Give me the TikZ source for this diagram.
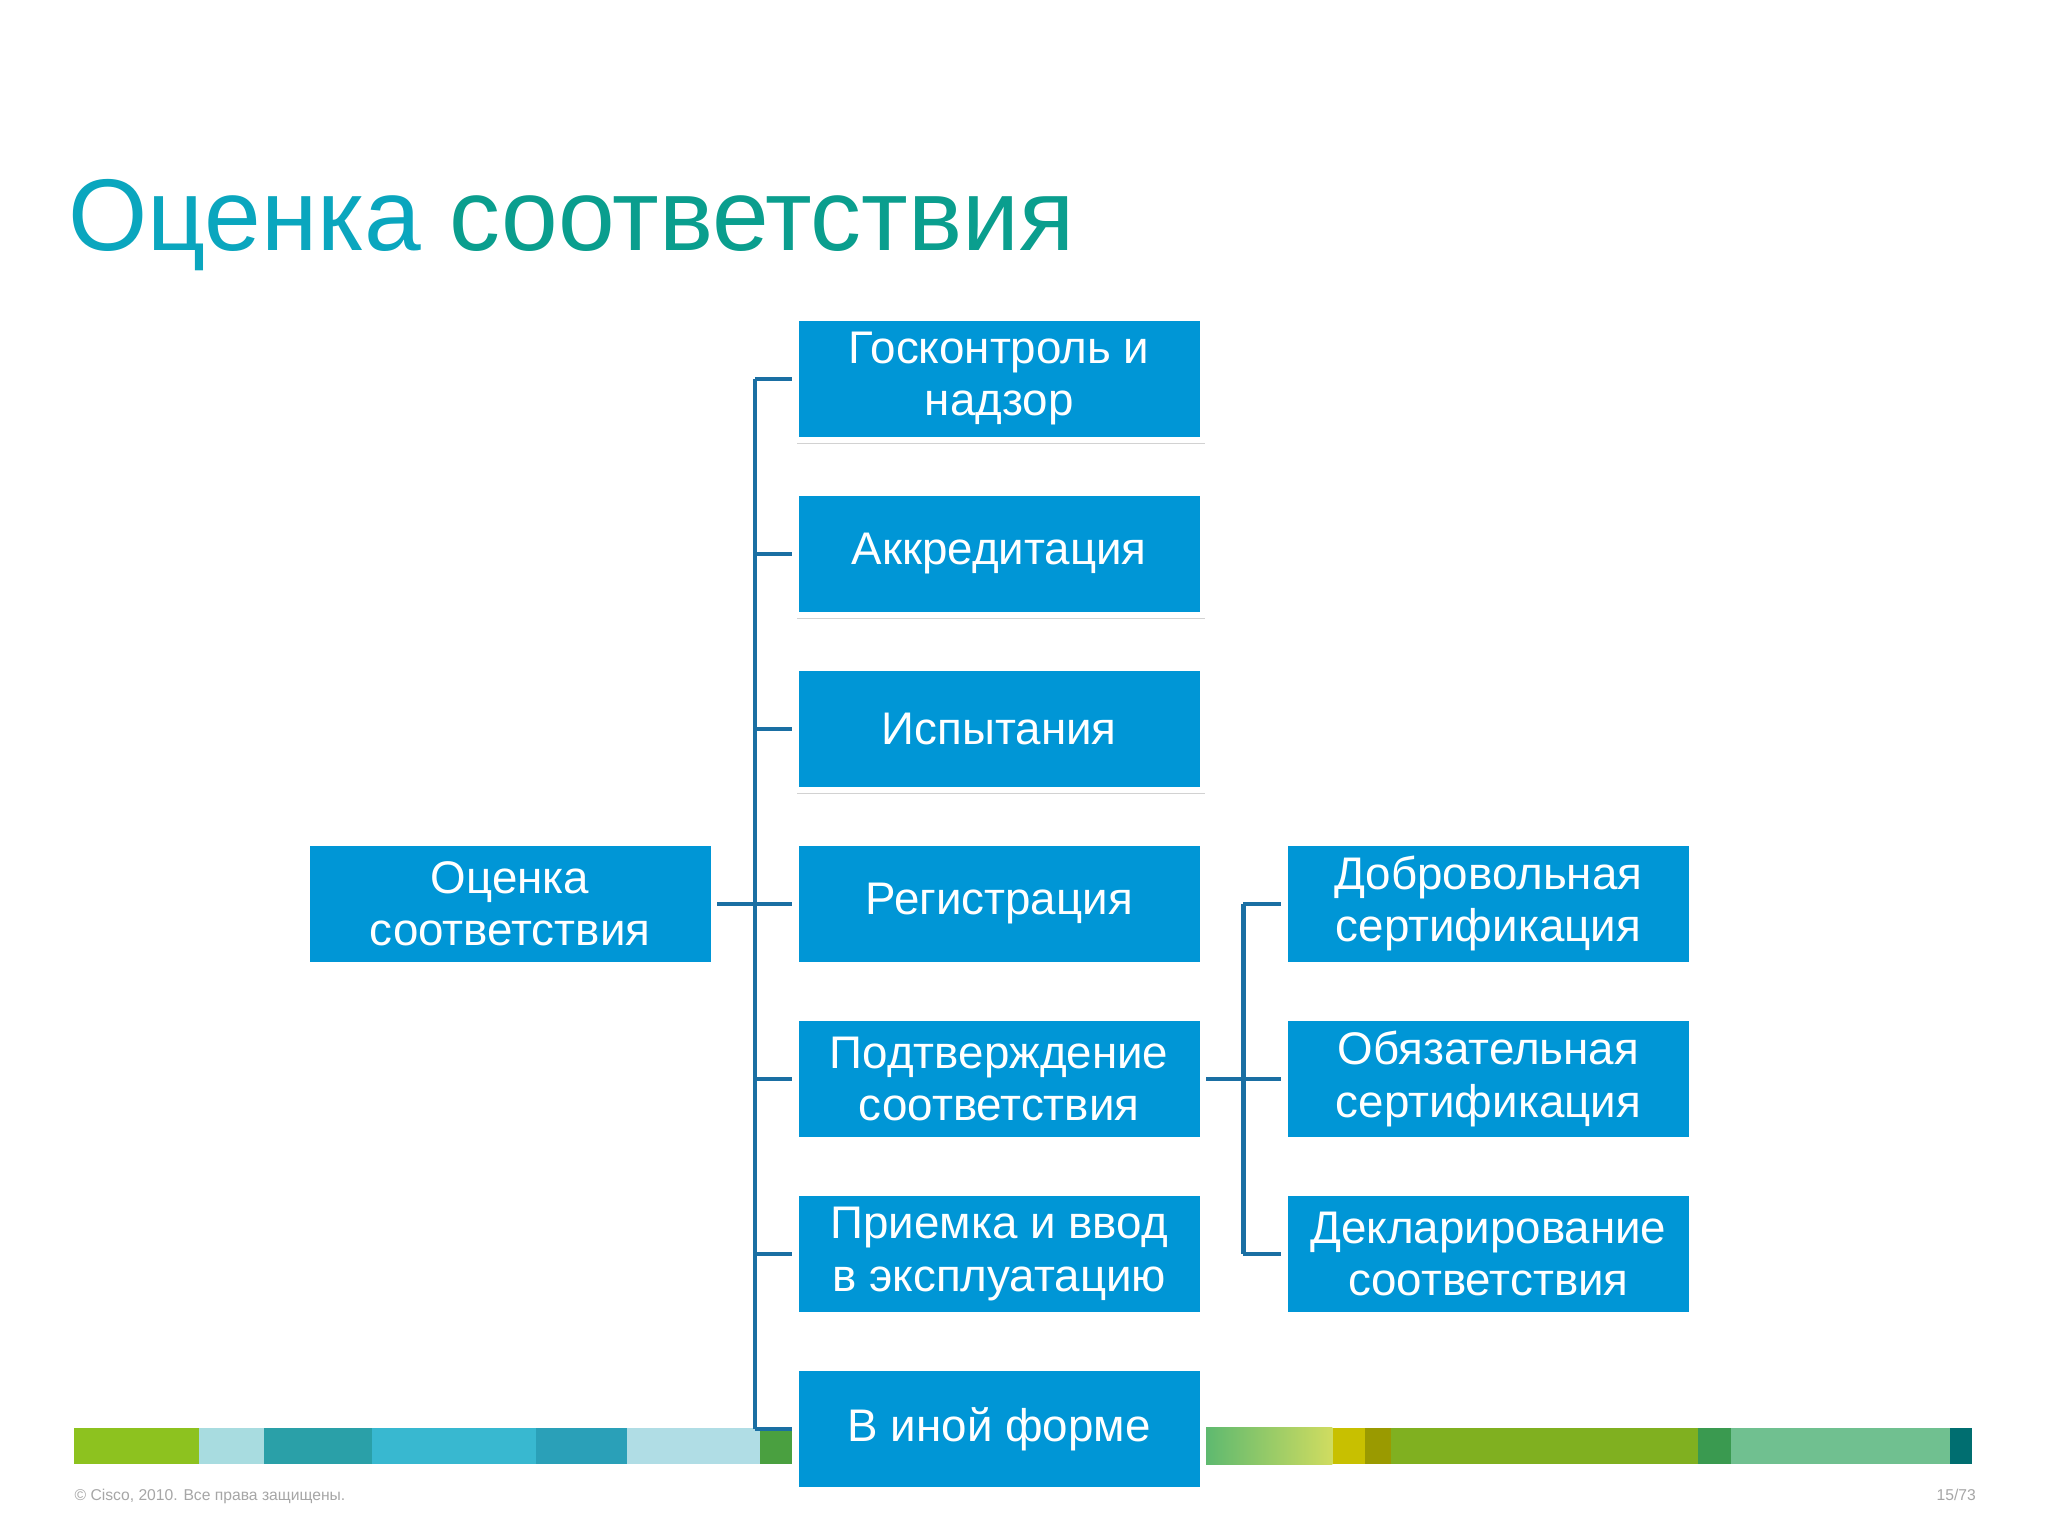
\documentclass[tikz,border=0pt]{standalone}
\usepackage{fontspec}
\setmainfont{Liberation Sans}
\usetikzlibrary{shadows}
\definecolor{boxblue}{HTML}{0096D6}
\definecolor{linkblue}{HTML}{1A6FA3}
\tikzset{
  bx/.style={draw=white,line width=5pt,fill=boxblue,text=white,minimum width=312pt,minimum height=94pt,
    inner sep=0pt,align=center,font=\fontsize{35}{40}\selectfont,
    drop shadow={opacity=0.35,shadow xshift=1.5pt,shadow yshift=-3pt}},
  ln/.style={draw=linkblue,line width=3.5pt},
  seg/.style={draw=none}
}
\begin{document}
\begin{tikzpicture}[x=1pt,y=-1pt]
\useasboundingbox (0,0) rectangle (1568,1176);
\fill[white] (0,0) rectangle (1568,1176);
% bottom bar
\foreach \a/\b/\c in {57/152/8DC21F,152/202/A8DCE0,202/285/2AA0A8,285/410/38B8D0,410/480/2AA0B8,480/582/B0DDE5,582/610/4AA040,1020/1045/C8C000,1045/1065/9A9A00,1065/1300/80B020,1300/1325/3A9A50,1325/1493/70C090,1493/1510/006E70}{
  \definecolor{tmp}{HTML}{\c}\fill[tmp] (\a,1093) rectangle (\b,1121);}
\definecolor{ga}{HTML}{5AB870}\definecolor{gb}{HTML}{D0DC60}
\shade[left color=ga,right color=gb] (920,1093) rectangle (1020,1121);
\node[anchor=base west,text=teal!60!cyan!90!black,font=\fontsize{78}{80}\selectfont,inner sep=0pt] (title) at (52,192) {\textcolor[HTML]{0AA6BE}{Оценка} \textcolor[HTML]{0A9E8E}{соответствия}};
% nodes
\node[bx] (root) at (390.5,692) {Оценка\\соответствия};
\node[bx] (m1) at (765,290) {Госконтроль и\\надзор};
\node[bx] (m2) at (765,424) {Аккредитация};
\node[bx] (m3) at (765,558) {Испытания};
\node[bx] (m4) at (765,692) {Регистрация};
\node[bx] (m5) at (765,826) {Подтверждение\\соответствия};
\node[bx] (m6) at (765,960) {Приемка и ввод\\в эксплуатацию};
\node[bx] (m7) at (765,1094) {В иной форме};
\node[bx] (r1) at (1139.5,692) {Добровольная\\сертификация};
\node[bx] (r2) at (1139.5,826) {Обязательная\\сертификация};
\node[bx] (r3) at (1139.5,960) {Декларирование\\соответствия};
% connectors
\coordinate (bus) at (578,0);
\draw[ln] (root.east) -- (m4.west);
\foreach \m in {m1,m2,m3,m5,m6,m7}{\draw[ln] (bus |- \m.west) -- (\m.west);}
\draw[ln] (bus |- m1.west) -- (bus |- m7.west);
\coordinate (bus2) at (952,0);
\draw[ln] (m5.east) -- (r2.west);
\foreach \r in {r1,r3}{\draw[ln] (bus2 |- \r.west) -- (\r.west);}
\draw[ln] (bus2 |- r1.west) -- (bus2 |- r3.west);
% footer
\node[anchor=base west,text=gray!70,font=\fontsize{12}{14}\selectfont,inner sep=0pt] (foot) at (57,1149) {© Cisco, 2010. Все права защищены.};
\node[anchor=base east,text=gray!70,font=\fontsize{12}{14}\selectfont,inner sep=0pt] (pg) at (1513,1149) {15/73};
\end{tikzpicture}
\end{document}
